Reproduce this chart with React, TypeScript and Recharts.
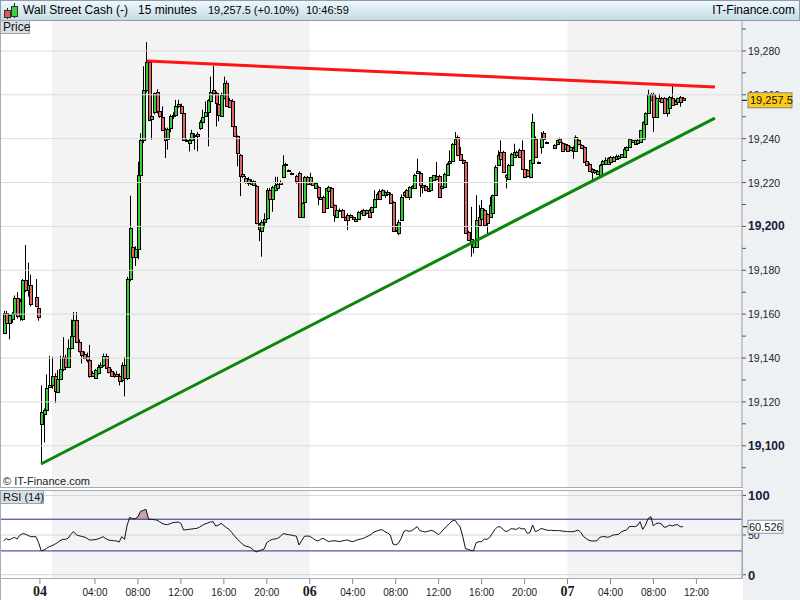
import React from "react";
import {
  ComposedChart,
  Bar,
  Line,
  Area,
  XAxis,
  YAxis,
  ReferenceLine,
  ReferenceArea,
} from "recharts";

const SANS = '"Liberation Sans", Arial, Helvetica, sans-serif';
const SERIF = '"Liberation Serif", "Times New Roman", serif';
const UP = "#33cc33";
const DOWN = "#e26464";

// one 15 minute slot per entry: [open, high, low, close], null = no quote
type OHLC = [number, number, number, number] | null;
const candles: OHLC[] = [
  [19151.5, 19161.5, 19151, 19160.5], [19160.5, 19161.5, 19154.5, 19156], [19156, 19160, 19148.5, 19159.5], [19158, 19161, 19156, 19160],
  [19160, 19168.5, 19159, 19167.5], [19167.5, 19170, 19158, 19159], [19159, 19167, 19157, 19166], [19158, 19176, 19157, 19175.5],
  [19175.5, 19191.5, 19170, 19171], [19171, 19183.5, 19168, 19173.5], [19173.5, 19178, 19163.5, 19164.5], null,
  [19168, 19176, 19163.5, 19163.6], [19163, 19163.5, 19157, 19158.5], [19110, 19127.5, 19091.5, 19115.5], [19114.5, 19117, 19101.5, 19116.5],
  [19116.5, 19132.5, 19115.5, 19126.5], [19127, 19141, 19126.5, 19127.5], [19127.5, 19140.5, 19126, 19132], [19132, 19133, 19119.5, 19125],
  [19124.5, 19134.5, 19124, 19130.5], [19130.5, 19141, 19130, 19135], [19135, 19149.5, 19134, 19140.5], [19140.5, 19141.5, 19135, 19136],
  [19136, 19148.5, 19135.5, 19144.5], [19144.5, 19157.5, 19144, 19150], [19150, 19161, 19149, 19157.5], [19157.5, 19161, 19147, 19147.5],
  [19147.5, 19148.5, 19142.5, 19143], [19143, 19145, 19137.5, 19141.5], [19142, 19143, 19139.5, 19140], [19141, 19142.5, 19138, 19139],
  [19139, 19146, 19131, 19132], [19133, 19134, 19131.5, 19132], [19131, 19135, 19130.5, 19134.5], [19133, 19137, 19132.5, 19136],
  [19136, 19138, 19135.5, 19137], [19137, 19142, 19136, 19141], [19141, 19142, 19135, 19135.5], [19136, 19137, 19133, 19133.5],
  [19134, 19135, 19131.5, 19132], [19132.5, 19133.5, 19131, 19132], [19132.5, 19134, 19131.5, 19132], [19132, 19133, 19127.5, 19129.5],
  [19130, 19138, 19129, 19137], [19137, 19140.5, 19122.5, 19131], [19131, 19177, 19130, 19176], [19176, 19214, 19175, 19199.5],
  [19190.5, 19199, 19184.5, 19186], [19186, 19191, 19182, 19189.5], [19189.5, 19229.5, 19185, 19223.5], [19223.5, 19242.5, 19222, 19239.5],
  [19239.5, 19273, 19238, 19262.3], [19262.3, 19284, 19261, 19275], [19275, 19276, 19248, 19248.6], [19249, 19255, 19239.5, 19250.5],
  [19252, 19261, 19251, 19260.8], [19261.2, 19262.5, 19251.5, 19252.4], [19252.4, 19253, 19249.5, 19250.2], [19250, 19254.7, 19244, 19244.1],
  [19244.5, 19245, 19231.2, 19239.5], [19240, 19245, 19235, 19244.4], [19244.7, 19251, 19243, 19250.2], [19250.2, 19252, 19249, 19250.9],
  [19251, 19257.7, 19250.5, 19255], [19255, 19257.7, 19254, 19255.8], [19254.7, 19256, 19251.5, 19251.7], [19251.7, 19252.5, 19239, 19239.5],
  [19239.5, 19240, 19238.5, 19238.8], [19238, 19240, 19234.2, 19239.5], [19239.5, 19244, 19239, 19242.6], [19241.8, 19242.5, 19235, 19241.1],
  [19242.3, 19243, 19234.2, 19241.1], [19244.8, 19248.6, 19244, 19247.4], [19247.4, 19253.2, 19247, 19249.8], [19250.5, 19257, 19250, 19252],
  [19252, 19258, 19236.5, 19257.7], [19257.4, 19268.3, 19257, 19261.5], [19262, 19273.2, 19260, 19260.8], [19260.8, 19261.5, 19245.6, 19256.2],
  [19255.9, 19257, 19247.9, 19250.9], [19250.5, 19261, 19250, 19260], [19258.5, 19268.3, 19258, 19265.3], [19265.6, 19266.5, 19254.5, 19254.7],
  [19257.7, 19258.5, 19254, 19254.4], [19257, 19258, 19245.4, 19245.6], [19245.6, 19246, 19241, 19241.1], [19241.1, 19241.5, 19227.4, 19233.5],
  [19232.7, 19233, 19213.8, 19222.9], [19224.1, 19225, 19222, 19222.9], [19222.1, 19223, 19219.5, 19220.2], [19219.8, 19222.5, 19218.5, 19221.4],
  [19220.6, 19221.5, 19219, 19219.5], [19219.1, 19221, 19218.5, 19220.6], [19218.3, 19219, 19201, 19201.7], [19200.9, 19201.5, 19193.3, 19198.6],
  [19198, 19203, 19186.2, 19202.1], [19202, 19206, 19199.5, 19203.6], [19204, 19217.5, 19203, 19216.5], [19216.5, 19217.5, 19212.5, 19212.7],
  [19212.7, 19218.5, 19206.7, 19218], [19216.5, 19222.6, 19216, 19218.8], [19217.7, 19222.6, 19217, 19219.5], [19220.3, 19221, 19219, 19219.2],
  [19222.6, 19232.4, 19222, 19227.9], [19228.6, 19229, 19227.5, 19227.9], [19225.6, 19226, 19225.4, 19225.6], [19224.5, 19224.7, 19224.3, 19224.5],
  null, [19222.9, 19223.5, 19219.5, 19220.8], [19224.5, 19225, 19204, 19204.1], [19204.4, 19210.8, 19204, 19210.5],
  [19211.2, 19223, 19211, 19222.6], [19222.6, 19223, 19219.4, 19219.5], [19219.2, 19224.5, 19219, 19222.6], [19220.3, 19221, 19218.5, 19218.8],
  [19217.7, 19220, 19217.5, 19219.8], [19218, 19218.5, 19209.7, 19213.5], [19212.7, 19214, 19212.5, 19213.5], [19213.5, 19214, 19206.5, 19206.7],
  [19208.2, 19217.5, 19208, 19217.3], [19216.2, 19218.5, 19216, 19218], [19217.3, 19218, 19208.8, 19208.9], [19209.7, 19210, 19202.1, 19205.2],
  [19204.1, 19207.5, 19204, 19207.4], [19207.1, 19208.2, 19206.8, 19207.7], [19207.7, 19208, 19204, 19204.1], [19204.1, 19204.5, 19202.8, 19202.9],
  [19205.2, 19206, 19198.3, 19202.9], [19204.1, 19205.5, 19203.8, 19205.2], [19204.1, 19204.5, 19203.4, 19203.6], [19203.6, 19204, 19202.4, 19202.6],
  [19203.2, 19207, 19203, 19206.7], [19206.2, 19207.5, 19206, 19207.1], [19207.4, 19208, 19205, 19205.2], [19205.9, 19207.6, 19205.5, 19207.4],
  [19207.4, 19208, 19204.2, 19204.4], [19206.7, 19209, 19206.5, 19208.9], [19208.9, 19216.5, 19208.5, 19212.7], [19212.7, 19215.5, 19212.5, 19215],
  [19216.2, 19217, 19212.5, 19212.7], [19214.2, 19217, 19214, 19216.5], [19214.2, 19216, 19213, 19215.8], [19215, 19216.5, 19214.5, 19215.8],
  [19215, 19215.5, 19210.3, 19210.5], [19211.2, 19211.5, 19197.8, 19198], [19200.6, 19201, 19197.5, 19198.3], [19196.8, 19203, 19196, 19202.1],
  [19203, 19214.5, 19202.5, 19213.5], [19214.2, 19216, 19213.5, 19215.8], [19216.8, 19217, 19213.4, 19213.5], [19213.5, 19218.3, 19212, 19218],
  [19217.5, 19218.8, 19217, 19218.3], [19217.7, 19224, 19217.5, 19223.3], [19224.4, 19230.9, 19224, 19225.3], [19224.4, 19225, 19213.5, 19218.8],
  [19218.8, 19219, 19215, 19218], [19218.3, 19219, 19216, 19216.5], [19217.3, 19217.5, 19216, 19216.2], [19216.8, 19222.5, 19216.5, 19222.3],
  [19221.1, 19223.5, 19220.8, 19223.3], [19222.9, 19229.4, 19221, 19221.4], [19222.9, 19223.5, 19213.4, 19213.5], [19218.3, 19218.8, 19213, 19217.3],
  [19218, 19224.5, 19217.5, 19224.1], [19223.3, 19229, 19223, 19228.6], [19228.9, 19234.7, 19228.5, 19229.8], [19229.8, 19238, 19229.5, 19237.7],
  [19237.7, 19243, 19237.5, 19240], [19240.8, 19241.5, 19232, 19232.4], [19233.2, 19236.2, 19230, 19230.2], [19230.2, 19230.5, 19228.5, 19228.9],
  [19229.4, 19230.2, 19196.5, 19196.8], [19197.6, 19198, 19193.7, 19193.8], [19194.1, 19208.9, 19186.2, 19193], [19190.8, 19193.5, 19187.7, 19193],
  [19190.8, 19214.2, 19190.5, 19202.9], [19204.4, 19209.7, 19200.2, 19200.6], [19203.6, 19212, 19200, 19208.2], [19207.4, 19208, 19200.4, 19200.6],
  [19205.6, 19206, 19196.8, 19201.4], [19204.4, 19213.5, 19204, 19209.7], [19205.9, 19214.5, 19205.5, 19214.2], [19214.2, 19227.9, 19214, 19227.1],
  [19227.9, 19234.7, 19227.5, 19232.4], [19233.9, 19239.2, 19230.5, 19230.9], [19233.9, 19234.5, 19224.5, 19224.8], [19223.3, 19223.8, 19217.3, 19222.3],
  [19221.8, 19228.5, 19221.5, 19227.9], [19227.9, 19233.5, 19227.5, 19233.2], [19231.7, 19237.7, 19231.5, 19233.9], [19232.4, 19234.5, 19232, 19233.9],
  [19234.7, 19235.5, 19231.5, 19231.7], [19234.7, 19239.2, 19226.3, 19226.4], [19226.4, 19227, 19222, 19222.3], [19225.6, 19226, 19222.5, 19222.9],
  [19222.6, 19230.4, 19222, 19230.2], [19229, 19251.4, 19228.5, 19247.6], [19240, 19241, 19231.5, 19231.7], [19229.4, 19229.6, 19229.2, 19229.4],
  [19236.2, 19243, 19233.2, 19240.5], [19242.7, 19243.5, 19239.9, 19240], [19238.5, 19238.7, 19238.3, 19238.5], null,
  null, [19237, 19237.5, 19235.8, 19235.9], [19237.4, 19239.5, 19237, 19239.2], [19240, 19240.5, 19238.4, 19238.5],
  [19238, 19238.5, 19234.4, 19234.6], [19235.4, 19237.8, 19235, 19237.4], [19236.9, 19237.5, 19234.4, 19234.6], [19234.9, 19236.5, 19234.5, 19236.2],
  [19235.8, 19236.5, 19230.8, 19234.6], [19234.6, 19241.5, 19234, 19240.8], [19239.2, 19240, 19237, 19237.4], [19236.9, 19237.5, 19235.5, 19235.8],
  [19236.2, 19236.5, 19229, 19229.2], [19230, 19230.5, 19228, 19228.2], [19228.5, 19229, 19225.2, 19225.4], [19226.2, 19226.5, 19220.8, 19224.6],
  [19224.6, 19226, 19224, 19225.7], [19223.8, 19225.7, 19223.5, 19225.4], [19223.1, 19228.5, 19222.8, 19228.2], [19228.5, 19230.3, 19228.2, 19230],
  [19228.5, 19231.5, 19228.2, 19230.3], [19228.5, 19231.5, 19228.2, 19231.2], [19231.5, 19232, 19229, 19229.2], [19230, 19232, 19229.8, 19231.8],
  [19232.3, 19232.8, 19230.5, 19230.8], [19231.2, 19232.6, 19231, 19232.3], [19231.8, 19233, 19231.5, 19232.8], [19231.5, 19236.2, 19231.2, 19235.4],
  [19234.9, 19236.5, 19234.5, 19236.2], [19236.2, 19240.2, 19236, 19240], [19238.5, 19239.5, 19238.2, 19239.2], [19239.2, 19239.5, 19237.5, 19237.7],
  [19238, 19239.8, 19237.8, 19239.5], [19238.5, 19244, 19238.2, 19243.8], [19240, 19247.9, 19239.5, 19247.7], [19246.9, 19252, 19246.5, 19251.8],
  [19251.8, 19262.3, 19251.5, 19260.5], [19257.7, 19260.8, 19257.4, 19260.5], [19260.5, 19261, 19243.1, 19250], [19250, 19258.8, 19249.5, 19258.5],
  [19257.4, 19260.5, 19257, 19258.5], [19258.5, 19259, 19256.5, 19256.9], [19258.5, 19259, 19251.5, 19251.8], [19251.5, 19258.3, 19250, 19258],
  [19253.8, 19259.5, 19253.5, 19259.2], [19258.5, 19264.6, 19255, 19255.4], [19255.8, 19257.8, 19255.5, 19257.4], [19256.9, 19258.7, 19256.5, 19258.5],
  [19259.2, 19259.5, 19254.6, 19256.9], [19258.5, 19259, 19257.2, 19257.5],
];

const rsiValues: number[] = [
  42.9, 45.5, 43.8, 45.5, 47.1, 45.0, 49.7, 51.8, 51.3, 49.7, 48.0, 48.0, 48.0, 40.4, 30.3, 31.1,
  33.3, 35.4, 36.6, 38.3, 40.4, 42.9, 44.6, 44.6, 45.9, 50.9, 54.3, 50.5, 49.2, 48.4, 47.6, 45.9,
  43.8, 43.8, 44.2, 45.0, 46.3, 48.0, 45.5, 43.8, 43.3, 42.9, 42.5, 41.2, 48.0, 44.6, 62.7, 72.4,
  70.7, 70.7, 73.2, 80.0, 81.2, 82.5, 69.9, 69.9, 69.4, 69.0, 66.9, 64.8, 63.5, 63.1, 64.4, 65.6,
  66.1, 66.5, 64.8, 56.4, 56.8, 57.2, 57.7, 58.1, 58.5, 60.2, 62.3, 64.0, 65.2, 66.5, 66.9, 61.4,
  62.7, 64.8, 61.9, 59.3, 57.2, 53.0, 48.8, 45.0, 41.7, 38.3, 36.2, 35.4, 34.1, 31.1, 28.6, 29.9,
  31.1, 32.4, 40.4, 42.9, 44.6, 45.0, 45.9, 48.0, 51.8, 51.3, 50.5, 50.1, 49.2, 48.8, 37.5, 42.9,
  48.4, 48.8, 48.4, 46.3, 43.8, 42.5, 44.6, 45.9, 43.8, 41.7, 42.5, 42.9, 42.5, 41.7, 42.5, 43.3,
  43.8, 42.5, 41.7, 42.9, 44.2, 45.0, 45.9, 47.6, 49.2, 51.3, 53.9, 55.1, 56.4, 56.8, 54.3, 52.6,
  50.1, 38.7, 37.5, 39.6, 45.5, 54.3, 56.0, 54.7, 55.6, 58.1, 60.6, 55.6, 54.7, 53.9, 54.7, 56.0,
  55.1, 53.0, 50.5, 53.9, 57.7, 61.4, 64.4, 67.7, 69.0, 64.4, 60.2, 48.0, 32.8, 32.0, 30.7, 30.3,
  40.4, 41.7, 41.7, 45.0, 44.6, 47.1, 52.2, 57.2, 60.6, 60.2, 57.2, 54.3, 55.6, 58.1, 57.7, 57.2,
  59.3, 57.7, 58.1, 52.2, 53.0, 62.7, 54.3, 55.6, 58.1, 57.7, 56.4, 56.0, 56.0, 55.6, 55.6, 55.6,
  55.1, 54.7, 54.3, 54.3, 54.3, 55.1, 56.4, 53.0, 48.0, 45.5, 43.3, 42.5, 42.5, 42.9, 47.1, 48.0,
  48.0, 47.1, 48.4, 50.1, 50.5, 50.9, 53.9, 55.6, 56.4, 60.6, 61.0, 60.6, 61.9, 66.9, 57.2, 62.3,
  70.7, 73.2, 61.4, 64.8, 65.2, 64.0, 59.8, 60.6, 62.7, 61.4, 62.7, 63.1, 60.6, 60.526,
];

const timeTicks = [13.5, 34, 50, 66, 82, 98, 114, 130, 146, 162, 178, 194, 210, 226, 242, 258];
const timeLabels = ["04", "04:00", "08:00", "12:00", "16:00", "20:00", "06", "04:00", "08:00", "12:00", "16:00", "20:00", "07", "04:00", "08:00", "12:00"];

const priceTicks = [19090, 19100, 19110, 19120, 19130, 19140, 19150, 19160, 19170, 19180, 19190, 19200, 19210, 19220, 19230, 19240, 19250, 19260, 19270, 19280, 19290];
const gridPrices = [19100, 19120, 19140, 19160, 19180, 19200, 19220, 19240, 19260, 19280];
const rsiTicks = [0, 50, 100];
const rsiBands = [30, 70];

const sessionShades = [[18, 114], [210, 274.98]];

const resistanceLine = [{ x: 53.4, y: 19275.4 }, { x: 264.9, y: 19263.6 }];
const supportLine = [{ x: 13.9, y: 19091.7 }, { x: 264.9, y: 19249.4 }];

const X_DOMAIN: [number, number] = [-0.99, 274.98];
const PRICE_DOMAIN: [number, number] = [19081.2, 19294.1];
const RSI_DOMAIN: [number, number] = [-4.2, 106.9];

const data = candles.map((c, i) => ({
  slot: i,
  range: c ? [c[2], c[1]] : null,
  open: c ? c[0] : null,
  close: c ? c[3] : null,
  rsi: rsiValues[i],
}));

const lastBar = candles[candles.length - 1] as [number, number, number, number];
const lastClose = lastBar[3];
const lastRsi = rsiValues[rsiValues.length - 1];

const Candle = (p: any) => {
  const d = p.payload;
  if (!d || !d.range) return null;
  const [lo, hi] = d.range;
  const top = Math.min(p.y, p.y + p.height);
  const h = Math.abs(p.height);
  const k = h / (hi - lo);
  const cx = Math.round(p.x + p.width / 2);
  const yo = top + (hi - d.open) * k;
  const yc = top + (hi - d.close) * k;
  const bt = Math.round(Math.min(yo, yc));
  const bb = Math.round(Math.max(yo, yc));
  const bh = Math.max(bb - bt, 1);
  return (
    <g>
      <rect x={cx} y={top} width={1} height={Math.max(h, 1)} fill="#000" />
      <rect x={cx - 1} y={bt} width={4} height={bh + 1} fill="#000" />
      {bh > 1 && <rect x={cx} y={bt + 1} width={2} height={bh - 1} fill={d.close >= d.open ? UP : DOWN} />}
    </g>
  );
};

const PriceTick = ({ x, y, payload }: any) => {
  const v = payload.value;
  if (v % 20 !== 0) return <g />;
  const major = v % 100 === 0;
  return (
    <text x={x} y={y} dy={4} fontFamily={SANS} fontSize={major ? 12 : 10.5} fontWeight={major ? 700 : 400} fill="#1b1b3a">
      {v.toLocaleString("en-US")}
    </text>
  );
};

const RsiTick = ({ x, y, payload }: any) => {
  const v = payload.value;
  const major = v !== 50;
  return (
    <text x={x} y={y} dy={major ? 5 : 4} fontFamily={SANS} fontSize={major ? 13 : 10.5} fontWeight={major ? 700 : 400} fill="#1b1b3a">
      {v}
    </text>
  );
};

const TimeTick = ({ x, y, payload }: any) => {
  const label = timeLabels[timeTicks.indexOf(payload.value)] ?? "";
  const day = label.length === 2;
  return (
    <text x={x} y={y + 10} textAnchor="middle" fontFamily={day ? SERIF : SANS} fontSize={day ? 14 : 10} fontWeight={day ? 700 : 400} fill="#1a1a1a">
      {label}
    </text>
  );
};

const PriceBadge = ({ viewBox }: any) => {
  const right = viewBox.x + viewBox.width;
  const y = viewBox.y;
  return (
    <g>
      <line x1={right} x2={right + 5} y1={y} y2={y} stroke="#000" />
      <rect x={right + 6} y={y - 7.5} width={44} height={15} fill="#fccc14" stroke="#7d8790" />
      <text x={right + 8} y={y + 4} fontSize={11} fontFamily={SANS} fill="#111">
        {lastClose.toLocaleString("en-US", { minimumFractionDigits: 1 })}
      </text>
    </g>
  );
};

const RsiBadge = ({ viewBox }: any) => {
  const right = viewBox.x + viewBox.width;
  const y = viewBox.y;
  return (
    <g>
      <line x1={right} x2={right + 5} y1={y} y2={y} stroke="#000" />
      <rect x={right + 6} y={y - 6.5} width={35} height={13} fill="#fff" stroke="#8c96a0" />
      <text x={right + 7} y={y + 4} fontSize={11} fontFamily={SANS} fill="#111">
        {lastRsi.toFixed(3)}
      </text>
    </g>
  );
};

const layer = (top: number): React.CSSProperties => ({ position: "absolute", left: 0, top });

const App = () => {
  return (
    <div style={{ position: "absolute", left: 0, top: 0, width: 800, height: 600, background: "#fff", overflow: "hidden", fontFamily: SANS }}>
      <div style={{ position: "absolute", left: 743, top: 20, width: 57, height: 580, background: "#eef1f4" }} />

      <div style={layer(0)}>
        <ComposedChart width={800} height={490} data={data} margin={{ top: 20, right: 0, bottom: 3, left: 1 }}>
          <XAxis type="number" dataKey="slot" domain={X_DOMAIN} allowDataOverflow hide />
          <YAxis
            orientation="right"
            width={58}
            domain={PRICE_DOMAIN}
            allowDataOverflow
            ticks={priceTicks}
            interval={0}
            tick={PriceTick}
            tickSize={4}
            tickMargin={2}
            tickLine={{ stroke: "#555" }}
            axisLine={{ stroke: "#8d99a4" }}
          />
          {sessionShades.map(([a, b]) => (
            <ReferenceArea key={a} x1={a} x2={b} fill="#f3f3f3" fillOpacity={1} stroke="none" />
          ))}
          {gridPrices.map((v) => (
            <ReferenceLine key={v} y={v} stroke="#dcdcdc" />
          ))}
          <Bar dataKey="range" barSize={3} shape={Candle} isAnimationActive={false} />
          <ReferenceLine segment={resistanceLine} stroke="#ff1414" strokeWidth={3} />
          <ReferenceLine segment={supportLine} stroke="#0b870b" strokeWidth={3} />
        </ComposedChart>
      </div>

      {/* last price badge, drawn over the axis labels */}
      <div style={layer(0)}>
        <ComposedChart width={800} height={490} data={data} margin={{ top: 20, right: 58, bottom: 3, left: 1 }}>
          <XAxis type="number" dataKey="slot" domain={X_DOMAIN} allowDataOverflow hide />
          <YAxis domain={PRICE_DOMAIN} allowDataOverflow hide />
          <ReferenceLine y={lastClose} strokeOpacity={0} label={PriceBadge} />
        </ComposedChart>
      </div>

      <div style={layer(480)}>
        <ComposedChart width={800} height={120} data={data} margin={{ top: 10, right: 0, bottom: 0, left: 1 }}>
          <XAxis
            type="number"
            dataKey="slot"
            domain={X_DOMAIN}
            allowDataOverflow
            ticks={timeTicks}
            interval={0}
            height={22}
            tick={TimeTick}
            tickSize={6}
            tickMargin={2}
            tickLine={{ stroke: "#8a8a8a" }}
            axisLine={false}
          />
          <YAxis
            orientation="right"
            width={58}
            domain={RSI_DOMAIN}
            allowDataOverflow
            ticks={rsiTicks}
            interval={0}
            tick={RsiTick}
            tickSize={4}
            tickMargin={2}
            tickLine={{ stroke: "#555" }}
            axisLine={{ stroke: "#8d99a4" }}
          />
          {sessionShades.map(([a, b]) => (
            <ReferenceArea key={a} x1={a} x2={b} fill="#f3f3f3" fillOpacity={1} stroke="none" />
          ))}
          {rsiTicks.map((v) => (
            <ReferenceLine key={v} y={v} stroke="#d6d6d6" />
          ))}
          {rsiBands.map((v) => (
            <ReferenceLine key={v} y={v} stroke="#2a2a9c" />
          ))}
          <Area
            dataKey={(d: any) => [70, Math.max(70, d.rsi)]}
            fill="#c9a2a2"
            fillOpacity={1}
            stroke="none"
            isAnimationActive={false}
          />
          <Line dataKey="rsi" stroke="#111" strokeWidth={1} dot={false} isAnimationActive={false} />
        </ComposedChart>
      </div>

      <div style={layer(480)}>
        <ComposedChart width={800} height={120} data={data} margin={{ top: 10, right: 58, bottom: 22, left: 1 }}>
          <XAxis type="number" dataKey="slot" domain={X_DOMAIN} allowDataOverflow hide />
          <YAxis domain={RSI_DOMAIN} allowDataOverflow hide />
          <ReferenceLine y={lastRsi} strokeOpacity={0} label={RsiBadge} />
        </ComposedChart>
      </div>

      {/* panel frames */}
      <div style={{ position: "absolute", left: 0, top: 20, width: 743, height: 468, boxSizing: "border-box", borderLeft: "1px solid #a3adb6", borderBottom: "1px solid #a3adb6", pointerEvents: "none" }} />
      <div style={{ position: "absolute", left: 0, top: 490, width: 743, height: 89, boxSizing: "border-box", border: "1px solid #a3adb6", pointerEvents: "none" }} />
      <div style={{ position: "absolute", left: 0, top: 579, width: 1, height: 21, background: "#a3adb6" }} />

      {/* header */}
      <div style={{ position: "absolute", left: 0, top: 0, width: 800, height: 21, boxSizing: "border-box", border: "1px solid #8f9ca7", background: "linear-gradient(#eef8fc, #c6dbe6)", fontSize: 12, lineHeight: "19px", color: "#000", whiteSpace: "nowrap" }}>
        <svg width={18} height={19} style={{ position: "absolute", left: 1, top: 0 }}>
          <line x1={5.5} x2={5.5} y1={7} y2={18} stroke="#222" />
          <rect x={2.5} y={9.5} width={6} height={7} fill="#e05a5a" stroke="#333" />
          <line x1={12.5} x2={12.5} y1={2} y2={17} stroke="#222" />
          <rect x={9.5} y={5.5} width={6} height={10} fill="#3ccf3c" stroke="#333" />
        </svg>
        <span style={{ position: "absolute", left: 22 }}>Wall Street Cash (-)</span>
        <span style={{ position: "absolute", left: 137 }}>15 minutes</span>
        <span style={{ position: "absolute", left: 207, fontSize: 11 }}>19,257.5 (+0.10%)</span>
        <span style={{ position: "absolute", left: 305, fontSize: 11 }}>10:46:59</span>
        <span style={{ position: "absolute", right: 4 }}>IT-Finance.com</span>
      </div>

      <div style={{ position: "absolute", left: 0, top: 20, width: 30, height: 14, boxSizing: "border-box", border: "1px solid #9aa5ae", background: "#d8e0e7", fontSize: 12, lineHeight: "12px", paddingLeft: 2, color: "#111", whiteSpace: "nowrap" }}>
        Price
      </div>
      <div style={{ position: "absolute", left: 0, top: 490, width: 44, height: 14, boxSizing: "border-box", border: "1px solid #9aa5ae", background: "#d8e0e7", fontSize: 11, lineHeight: "12px", paddingLeft: 2, color: "#111", whiteSpace: "nowrap" }}>
        RSI (14)
      </div>
      <div style={{ position: "absolute", left: 3, top: 475, fontSize: 11, lineHeight: "12px", color: "#222", whiteSpace: "nowrap" }}>
        © IT-Finance.com
      </div>
    </div>
  );
};

export default App;
